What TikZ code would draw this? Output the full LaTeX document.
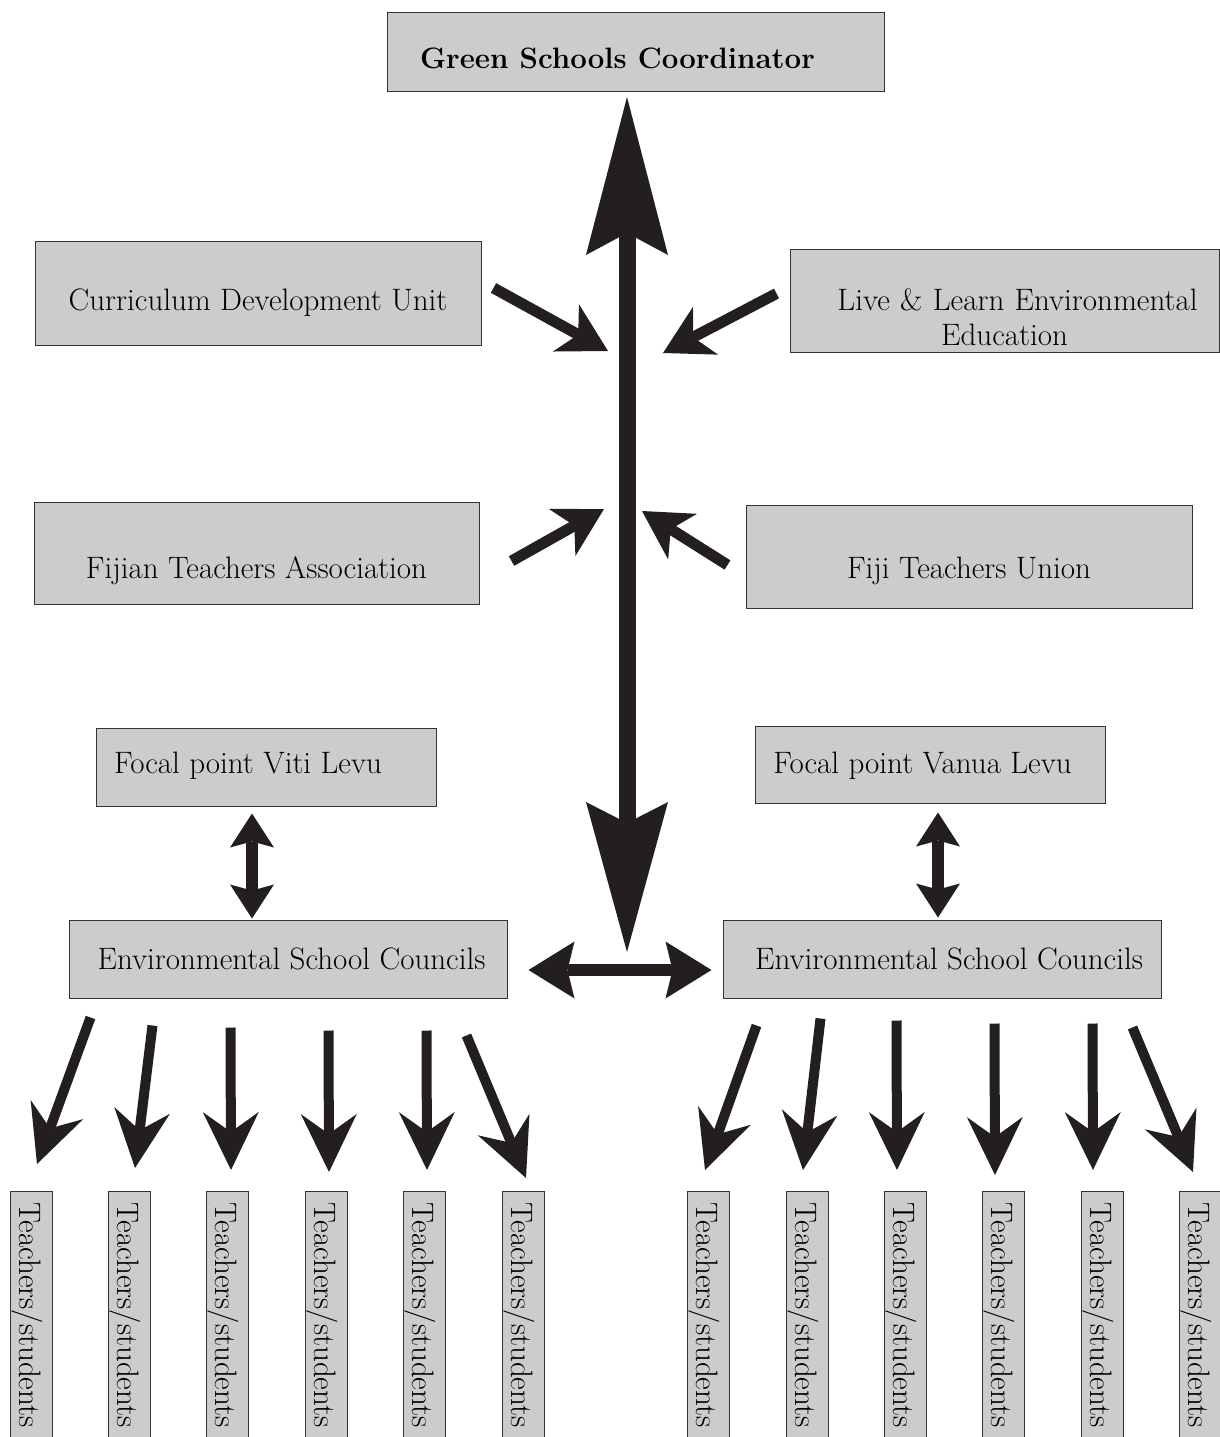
\documentclass[tikz,border=0pt]{standalone}
\usetikzlibrary{arrows.meta,calc}

\definecolor{boxgray}{HTML}{CCCCCC}
\definecolor{ink}{HTML}{231F20}

\tikzset{
	box/.style={draw=black!80, line width=1pt, fill=boxgray, inner sep=0pt,
		text depth=0pt, font=\fontsize{31}{35}\selectfont},
	tsbox/.style={box, rotate=-90, anchor=west, minimum width=247, minimum height=42},
	mainarrow/.style={draw=ink, line width=17pt,
		{Stealth[length=158pt,width=82pt,inset=22pt,line width=0pt]}-{Stealth[length=150pt,width=82pt,inset=21pt,line width=0pt]}},
	inarrow/.style={draw=ink, line width=11pt,
		-{Stealth[length=48pt,width=54pt,inset=14pt,line width=0pt]}},
	dnarrow/.style={draw=ink, line width=10pt,
		-{Stealth[length=58pt,width=56pt,inset=20pt,line width=0pt]}},
	hdouble/.style={draw=ink, line width=12pt,
		{Stealth[length=46pt,width=57pt,inset=7pt,line width=0pt]}-{Stealth[length=46pt,width=57pt,inset=7pt,line width=0pt]}},
	vdouble/.style={draw=ink, line width=12pt,
		{Stealth[length=34pt,width=44pt,inset=6pt,line width=0pt]}-{Stealth[length=34pt,width=44pt,inset=6pt,line width=0pt]}}
}

\begin{document}
\begin{tikzpicture}[x=1pt, y=-1pt]
	\useasboundingbox (0,0) rectangle (1220,1437);
	\clip (0,0) rectangle (1220,1437);

	% boxes
	\node[box, minimum width=497, minimum height=78, text height=32pt,
		font=\fontsize{29.5}{35}\selectfont\bfseries] (gsc) at (635.5,52) {Green Schools Coordinator\hspace*{36pt}};
	\node[box, minimum width=446, minimum height=104, text height=34pt] (cdu) at (258,293) {Curriculum Development Unit};
	\node[box, minimum width=429, minimum height=103, text width=429, align=center, text height=19pt] (lle) at (1004.5,300.5)
		{\hspace*{26pt}Live \& Learn Environmental\\Education\hspace*{10pt}};
	\node[box, minimum width=445, minimum height=102, text height=50pt] (fta) at (256.5,553) {Fijian Teachers Association};
	\node[box, minimum width=446, minimum height=103, text height=43pt] (ftu) at (969,556.5) {Fiji Teachers Union};
	\node[box, minimum width=340, minimum height=78, text height=12pt] (focL) at (266,767) {Focal point Viti Levu\hspace*{36pt}};
	\node[box, minimum width=350, minimum height=77, text height=17pt] (focR) at (930,764.5) {Focal point Vanua Levu\hspace*{15pt}};
	\node[box, minimum width=438, minimum height=78, text height=20pt] (escL) at (288,959) {\hspace*{7pt}Environmental School Councils};
	\node[box, minimum width=438, minimum height=78, text height=20pt] (escR) at (942,959) {\hspace*{14pt}Environmental School Councils};

	\foreach \x [count=\i] in {31,129,227,326,424,523}
		\node[tsbox] (tsL\i) at (\x,1191) {Teachers/students};
	\foreach \x [count=\i] in {708,807,905,1003,1102,1200}
		\node[tsbox] (tsR\i) at (\x,1191) {Teachers/students};

	% main axis
	\coordinate (top) at (627,97);
	\coordinate (bot) at (627,952);
	\draw[mainarrow] (top) -- (bot);

	% arrows into the axis
	\coordinate (atCDU) at (608,351);
	\coordinate (atLLE) at (663,353);
	\coordinate (atFTA) at (604,509);
	\coordinate (atFTU) at (642,511);
	\draw[inarrow] ([shift={(12,-5)}]cdu.east) -- (atCDU);
	\draw[inarrow] ([shift={(-13,-7)}]lle.west) -- (atLLE);
	\draw[inarrow] ([shift={(32,8)}]fta.east) -- (atFTA);
	\draw[inarrow] ([shift={(-18,8.5)}]ftu.west) -- (atFTU);

	% focal points and councils
	\draw[vdouble] ([shift={(-14,7)}]focL.south) -- ([shift={(-36,-1)}]escL.north);
	\draw[vdouble] ([shift={(8,9)}]focR.south) -- ([shift={(-4,-2)}]escR.north);
	\draw[hdouble] ([shift={(21,11)}]escL.east) -- ([shift={(-11,11)}]escR.west);

	% councils to teachers/students
	\foreach \i/\a/\b/\c/\d in {1/22/19/6/-27, 2/84/27/6/-23, 3/162/29/4/-21,
		4/260/32/3/-19, 5/358/32/3/-21, 6/398/37/3/-13}
		\draw[dnarrow] ([shift={(\a,\b)}]escL.south west) -- ([shift={(\c,\d)}]tsL\i.west);
	\foreach \i/\a/\b/\c/\d in {1/34/27/-3/-21, 2/98/20/-4/-21, 3/174/22/-8/-21,
		4/272/25/-8/-16, 5/370/25/-9/-21, 6/410/29/-7/-19}
		\draw[dnarrow] ([shift={(\a,\b)}]escR.south west) -- ([shift={(\c,\d)}]tsR\i.west);
\end{tikzpicture}
\end{document}
